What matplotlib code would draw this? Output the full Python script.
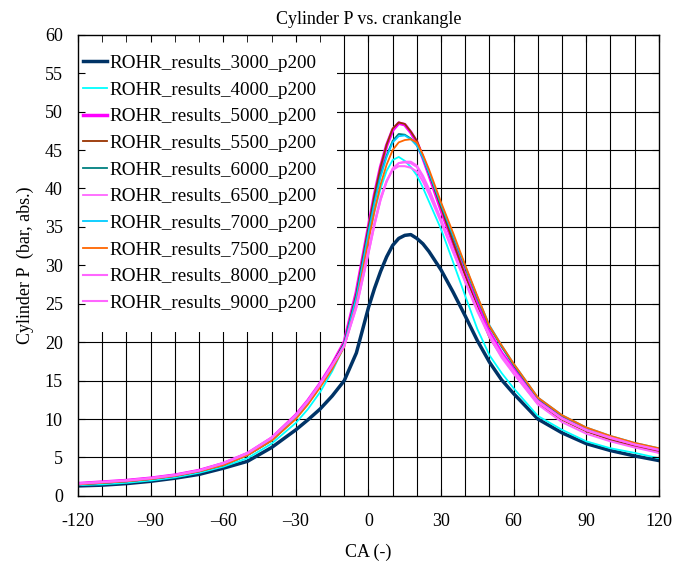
import matplotlib
matplotlib.use("Agg")
import matplotlib.pyplot as plt

plt.rcParams['font.family'] = ['Liberation Serif', 'DejaVu Serif']

# crank angle (deg)
ca = [-120, -110, -100, -90, -80, -70, -60, -50, -40, -30, -25, -20, -15, -10, -5,
      0, 2.5, 5, 7.5, 10, 12.5, 15, 17.5, 20, 22.5, 25, 30, 35, 40, 45, 50, 55, 60,
      70, 80, 90, 100, 110, 120]

p3000 = [1.3, 1.4, 1.6, 1.9, 2.3, 2.8, 3.6, 4.5, 6.3, 8.6, 9.9, 11.3, 13.0, 15.0, 18.6,
         24.5, 27.0, 29.2, 31.1, 32.6, 33.5, 33.9, 34.0, 33.5, 32.8, 31.8, 29.4, 26.5, 23.4, 20.2, 17.4, 15.1, 13.3,
         10.0, 8.2, 6.8, 5.9, 5.2, 4.6]
p4000 = [1.4, 1.5, 1.7, 2.0, 2.4, 3.0, 3.8, 4.9, 6.8, 9.5, 11.3, 13.5, 16.2, 19.5, 25.5,
         33.5, 37.0, 40.0, 42.3, 43.7, 44.1, 43.6, 42.8, 41.7, 40.1, 38.3, 34.7, 30.4, 26.0, 21.7, 18.3, 16.0, 14.0,
         10.4, 8.6, 7.1, 6.2, 5.6, 4.9]
p5000 = [1.6, 1.8, 2.0, 2.3, 2.7, 3.3, 4.2, 5.5, 7.5, 10.5, 12.4, 14.6, 17.1, 20.0, 26.5,
         35.0, 39.2, 42.8, 45.6, 47.6, 48.5, 48.3, 47.3, 46.0, 44.0, 41.8, 37.2, 32.9, 28.8, 24.9, 21.3, 18.6, 16.5,
         12.5, 10.2, 8.6, 7.5, 6.7, 6.0]
p5500 = [1.5, 1.7, 1.9, 2.2, 2.6, 3.2, 4.0, 5.3, 7.2, 10.2, 12.2, 14.5, 17.0, 19.9, 26.3,
         35.0, 39.2, 42.8, 45.7, 47.8, 48.6, 48.4, 47.4, 46.2, 44.2, 42.0, 37.5, 33.0, 28.6, 24.5, 20.6, 18.2, 16.0,
         12.0, 9.9, 8.4, 7.3, 6.4, 5.7]
p6000 = [1.5, 1.7, 1.9, 2.2, 2.6, 3.2, 4.0, 5.3, 7.2, 10.1, 12.1, 14.4, 16.9, 19.8, 26.0,
         34.5, 38.4, 41.8, 44.3, 46.2, 47.1, 47.0, 46.5, 45.6, 44.0, 42.0, 37.8, 33.7, 29.7, 25.7, 22.0, 19.4, 17.0,
         12.7, 10.4, 8.8, 7.7, 6.8, 6.1]
p6500 = [1.6, 1.8, 2.0, 2.3, 2.7, 3.3, 4.2, 5.5, 7.5, 10.5, 12.4, 14.6, 17.0, 19.6, 24.5,
         31.5, 35.2, 38.5, 40.9, 42.5, 43.3, 43.5, 43.5, 43.0, 41.7, 40.0, 36.0, 32.0, 28.0, 24.2, 20.8, 18.2, 16.2,
         12.2, 10.0, 8.5, 7.5, 6.7, 6.0]
p7000 = [1.5, 1.7, 1.9, 2.2, 2.6, 3.2, 4.0, 5.3, 7.2, 10.1, 12.0, 14.3, 16.8, 19.7, 25.8,
         34.2, 38.1, 41.5, 44.1, 46.0, 46.8, 46.9, 46.4, 45.6, 44.0, 42.1, 38.0, 33.9, 29.9, 25.9, 22.2, 19.6, 17.2,
         12.8, 10.5, 8.9, 7.8, 6.9, 6.2]
p7500 = [1.5, 1.7, 1.9, 2.2, 2.6, 3.2, 4.0, 5.3, 7.2, 10.0, 11.9, 14.1, 16.5, 19.4, 25.0,
         33.2, 37.1, 40.5, 43.1, 45.0, 46.0, 46.3, 46.4, 46.0, 44.4, 42.5, 38.2, 34.2, 30.0, 26.0, 22.1, 19.6, 17.2,
         12.8, 10.5, 8.9, 7.8, 6.9, 6.2]
p8000 = [1.6, 1.8, 2.0, 2.3, 2.7, 3.3, 4.2, 5.5, 7.5, 10.4, 12.3, 14.5, 16.9, 19.5, 24.8,
         32.0, 35.6, 38.8, 41.0, 42.4, 42.9, 42.9, 42.7, 42.2, 40.9, 39.3, 35.6, 31.7, 27.8, 24.0, 20.7, 18.0, 15.9,
         11.9, 9.6, 8.1, 7.1, 6.3, 5.6]
p9000 = [1.6, 1.8, 2.0, 2.3, 2.7, 3.3, 4.3, 5.6, 7.6, 10.5, 12.4, 14.6, 17.0, 19.5, 24.5,
         31.6, 35.3, 38.5, 40.9, 42.6, 43.3, 43.4, 43.3, 42.8, 41.4, 39.8, 35.8, 31.8, 27.9, 24.2, 21.0, 18.4, 16.3,
         12.3, 10.1, 8.6, 7.6, 6.7, 6.0]

labels = ["ROHR_results_3000_p200", "ROHR_results_4000_p200", "ROHR_results_5000_p200",
          "ROHR_results_5500_p200", "ROHR_results_6000_p200", "ROHR_results_6500_p200",
          "ROHR_results_7000_p200", "ROHR_results_7500_p200", "ROHR_results_8000_p200",
          "ROHR_results_9000_p200"]
series = [p3000, p4000, p5000, p5500, p6000, p6500, p7000, p7500, p8000, p9000]
colors = ["#003366", "#00FFFF", "#FF00FF", "#993300", "#008080",
          "#FF66FF", "#00CCFF", "#FF6600", "#FF66FF", "#FF66FF"]
widths = [2.5, 1.3, 2.5, 1.3, 1.3, 1.3, 1.3, 1.3, 1.5, 1.5]

xticks = [-120, -90, -60, -30, 0, 30, 60, 90, 120]
xticklabels = ["-120", "\u201390", "\u201360", "\u201330", "0", "30", "60", "90", "120"]
yticks = list(range(0, 61, 5))

fig = plt.figure(figsize=(6.73, 5.70), dpi=100)
ax = fig.add_subplot(111)
fig.subplots_adjust(left=0.116, right=0.979, top=0.939, bottom=0.130)

# grid drawn by hand so the legend can cover it but not the ticks
for gx in range(-110, 120, 10):
    ax.axvline(gx, color="black", lw=0.8, zorder=0.5)
for gy in range(5, 60, 5):
    ax.axhline(gy, color="black", lw=0.8, zorder=0.5)

for s, lab, c, w in zip(series, labels, colors, widths):
    ax.plot(ca, s, color=c, lw=w, label=lab, zorder=2)

ax.set_xlim(-120, 120)
ax.set_ylim(0, 60)
ax.set_xticks(xticks)
ax.set_xticklabels(xticklabels)
ax.set_xticks(range(-120, 121, 10), minor=True)
ax.set_yticks(yticks)
ax.tick_params(axis="both", which="both", direction="in", top=True, right=True, labelsize=13)
ax.tick_params(axis="x", which="major", length=5, pad=12)
ax.tick_params(axis="x", which="minor", length=5)
ax.tick_params(axis="y", length=5, pad=11)
ax.xaxis.set_zorder(6)
ax.yaxis.set_zorder(6)
for sp in ax.spines.values():
    sp.set_zorder(6)
    sp.set_linewidth(1.0)

ax.set_title("Cylinder P vs. crankangle", fontsize=13, pad=8)
ax.set_xlabel("CA (-)", fontsize=13, labelpad=10)
ax.set_ylabel("Cylinder P  (bar, abs.)", fontsize=13, labelpad=8)

leg = ax.legend(loc="upper left", bbox_to_anchor=(-0.026, 1), borderaxespad=0,
                fontsize=13.7, frameon=True, fancybox=False, edgecolor="none",
                framealpha=1, handlelength=1.25, handletextpad=0.15,
                labelspacing=0.49, borderpad=1.05)
leg.set_zorder(5)

fig.savefig("out.png", dpi=100)
